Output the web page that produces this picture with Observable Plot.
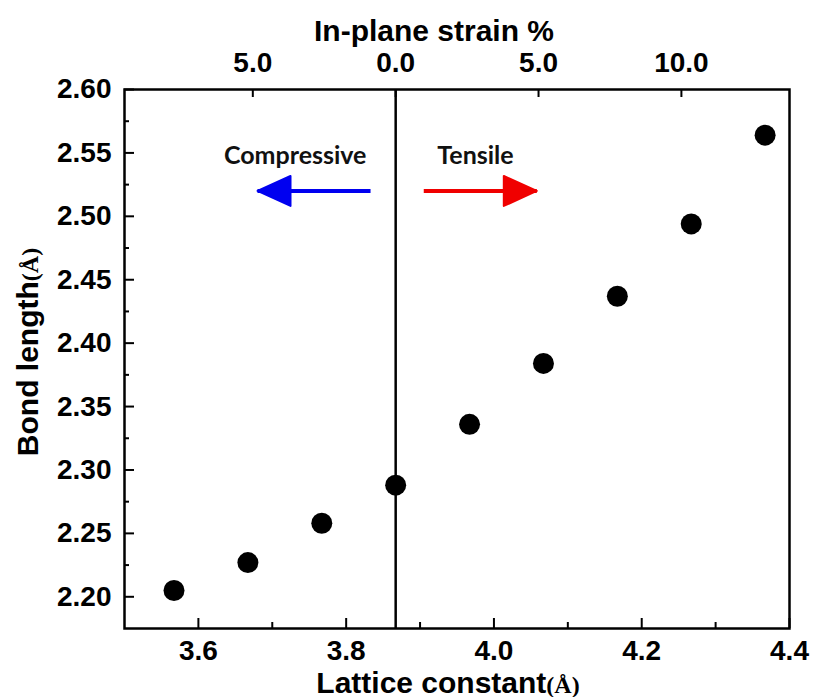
<!DOCTYPE html>
<html>
<head>
<meta charset="utf-8">
<script src="https://cdn.jsdelivr.net/npm/d3@7"></script>
<script src="https://cdn.jsdelivr.net/npm/@observablehq/plot@0.6"></script>
<style>
  body { margin: 0; background: white; }
  svg { display: block; }
</style>
</head>
<body>
<div id="chart"></div>
<script>
// ---- data ----
const latticeConstant = [3.567, 3.667, 3.767, 3.867, 3.967, 4.067, 4.167, 4.267, 4.367];
const bondLength      = [2.205, 2.227, 2.258, 2.288, 2.336, 2.384, 2.437, 2.494, 2.564];
const unstrainedLattice = 3.867;

const xMajorTicks = [3.6, 3.8, 4.0, 4.2, 4.4];
const xMinorTicks = [3.7, 3.9, 4.1, 4.3];
const yMajorTicks = [2.20, 2.25, 2.30, 2.35, 2.40, 2.45, 2.50, 2.55, 2.60];
const yMinorTicks = [2.225, 2.275, 2.325, 2.375, 2.425, 2.475, 2.525, 2.575];
const strainTicks = [-5, 0, 5, 10];
const strainTickLabels = ["5.0", "0.0", "5.0", "10.0"];

// annotations (data coordinates)
const compressiveArrowX = [3.833, 3.680];
const tensileArrowX = [3.905, 4.058];
const arrowLevel = 2.52;
const annotationLabels = ["Compressive", "Tensile"];
const annotationX = [3.731, 3.975];
const annotationLevel = 2.541;

// ---- derived tables ----
const points = latticeConstant.map((a, i) => ({a, b: bondLength[i]}));
const strainPos = strainTicks.map(s => unstrainedLattice * (1 + s / 100));
const strainLabelOf = new Map(strainPos.map((p, i) => [p, strainTickLabels[i]]));
const annotations = annotationLabels.map((t, i) => ({t, x: annotationX[i], y: annotationLevel}));

const headRight = {draw(ctx) { ctx.moveTo(0, 0); ctx.lineTo(-33, -15); ctx.lineTo(-33, 15); ctx.closePath(); }};
const headLeft  = {draw(ctx) { ctx.moveTo(0, 0); ctx.lineTo(33, -15); ctx.lineTo(33, 15); ctx.closePath(); }};

const W = 813, H = 697, ML = 124, MR = 24, MT = 89, MB = 69;
const frameW = W - ML - MR, frameH = H - MT - MB;
const font = "'Liberation Sans', Arial, sans-serif";

const chart = Plot.plot({
  width: W, height: H,
  marginLeft: ML, marginRight: MR, marginTop: MT, marginBottom: MB,
  x: {domain: [3.5, 4.4]},
  y: {domain: [2.175, 2.60]},
  style: {fontFamily: font, fontWeight: "bold", color: "black", background: "white", overflow: "visible"},
  marks: [
    // tick labels
    Plot.axisX(xMajorTicks, {anchor: "bottom", tickSize: 0, tickPadding: 12, fontSize: 28, fontWeight: "bold", tickFormat: d => d.toFixed(1), label: null}),
    Plot.axisY(yMajorTicks, {anchor: "left", tickSize: 0, tickPadding: 13, fontSize: 28, fontWeight: "bold", tickFormat: d => d.toFixed(2), label: null}),
    Plot.axisX(strainPos, {anchor: "top", tickSize: 0, tickPadding: 18, fontSize: 28, fontWeight: "bold", tickFormat: d => strainLabelOf.get(d), label: null}),
    // inward tick marks
    Plot.ruleX(xMajorTicks, {insetTop: frameH - 10, stroke: "black", strokeWidth: 2}),
    Plot.ruleX(xMinorTicks, {insetTop: frameH - 6, stroke: "black", strokeWidth: 2}),
    Plot.ruleY(yMajorTicks, {insetRight: frameW - 10, stroke: "black", strokeWidth: 2}),
    Plot.ruleY(yMinorTicks, {insetRight: frameW - 5, stroke: "black", strokeWidth: 2}),
    Plot.ruleX(strainPos, {insetBottom: frameH - 8, stroke: "black", strokeWidth: 2}),
    // zero strain line
    Plot.ruleX([unstrainedLattice], {stroke: "black", strokeWidth: 2.5}),
    // arrows
    Plot.link([0], {x1: () => compressiveArrowX[0], x2: () => compressiveArrowX[1], y1: () => arrowLevel, y2: () => arrowLevel, stroke: "#0000f0", strokeWidth: 4}),
    Plot.dot([0], {x: () => compressiveArrowX[1], y: () => arrowLevel, symbol: headLeft, fill: "#0000f0", stroke: "#0000f0", strokeWidth: 2, strokeLinejoin: "round", r: 10}),
    Plot.link([0], {x1: () => tensileArrowX[0], x2: () => tensileArrowX[1], y1: () => arrowLevel, y2: () => arrowLevel, stroke: "#f00000", strokeWidth: 4}),
    Plot.dot([0], {x: () => tensileArrowX[1], y: () => arrowLevel, symbol: headRight, fill: "#f00000", stroke: "#f00000", strokeWidth: 2, strokeLinejoin: "round", r: 10}),
    Plot.text(annotations, {x: "x", y: "y", text: "t", lineAnchor: "bottom", fontSize: 25, fontWeight: "bold", fontFamily: "Lato, 'Open Sans', sans-serif", fill: "#111"}),
    // data
    Plot.dot(points, {x: "a", y: "b", r: 10.5, fill: "black"}),
    // frame
    Plot.frame({stroke: "black", strokeWidth: 2.5}),
    // axis titles
    Plot.text(["Lattice constant(Å)"], {frameAnchor: "bottom", textAnchor: "middle", dx: -9, dy: 64, lineAnchor: "bottom", fontSize: 30, fontWeight: "bold"}),
    Plot.text(["In-plane strain %"], {frameAnchor: "top", textAnchor: "middle", dx: -23, dy: -49, lineAnchor: "bottom", fontSize: 30, fontWeight: "bold"}),
    Plot.text(["Bond length(Å)"], {frameAnchor: "left", textAnchor: "middle", dx: -87, dy: -7, rotate: -90, lineAnchor: "bottom", fontSize: 30, fontWeight: "bold"})
  ]
});

// render the "(Å)" unit in a serif face, as in the original figure
chart.querySelectorAll("text").forEach(t => {
  const s = t.textContent;
  if (s.endsWith("(Å)") && t.children.length === 0) {
    t.textContent = s.slice(0, -3);
    const ts = document.createElementNS("http://www.w3.org/2000/svg", "tspan");
    ts.textContent = "(Å)";
    ts.setAttribute("font-family", "'Liberation Serif', 'Times New Roman', serif");
    ts.setAttribute("font-size", "24");
    t.appendChild(ts);
  }
});

document.getElementById("chart").appendChild(chart);
</script>
</body>
</html>
